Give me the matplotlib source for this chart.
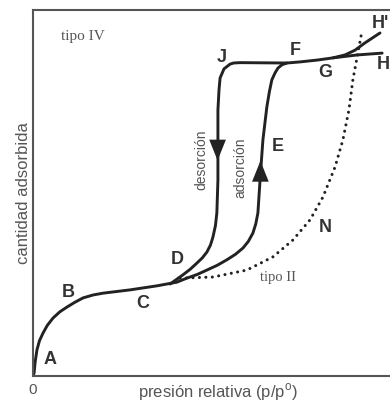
import matplotlib
matplotlib.use('Agg')
import matplotlib.pyplot as plt

plt.rcParams['font.family'] = ['Liberation Sans', 'DejaVu Sans']

# curva de adsorción (A -> C -> D -> E -> F -> G -> H), coordenadas relativas
ads_x = [0.0, 0.003, 0.006, 0.011, 0.018, 0.028, 0.040, 0.056, 0.075, 0.095, 0.117, 0.140,
         0.168, 0.196, 0.272, 0.347, 0.403, 0.431, 0.460, 0.487, 0.516, 0.543, 0.567,
         0.588, 0.603, 0.616, 0.624, 0.630, 0.636, 0.640, 0.644, 0.655, 0.662, 0.669,
         0.678, 0.686, 0.697, 0.711, 0.748, 0.796, 0.840, 0.908, 0.978]
ads_y = [0.0, 0.008, 0.038, 0.071, 0.096, 0.117, 0.138, 0.158, 0.175, 0.188, 0.201, 0.213,
         0.221, 0.226, 0.235, 0.246, 0.256, 0.267, 0.277, 0.289, 0.302, 0.317, 0.332,
         0.349, 0.367, 0.390, 0.415, 0.445, 0.535, 0.590, 0.644, 0.734, 0.775, 0.808,
         0.827, 0.840, 0.849, 0.854, 0.857, 0.862, 0.868, 0.876, 0.881]

# rama de desorción (F -> J -> D)
des_x = [0.711, 0.580, 0.562, 0.552, 0.535, 0.524, 0.521, 0.518, 0.518, 0.515, 0.511,
         0.504, 0.497, 0.487, 0.474, 0.459, 0.440, 0.420, 0.384]
des_y = [0.854, 0.855, 0.854, 0.851, 0.838, 0.813, 0.780, 0.726, 0.535, 0.445, 0.410,
         0.379, 0.357, 0.338, 0.322, 0.308, 0.291, 0.276, 0.251]

# rama G -> H'
hp_x = [0.840, 0.874, 0.902, 0.930, 0.972]
hp_y = [0.868, 0.876, 0.889, 0.909, 0.936]

# isoterma tipo II (punteada)
t2_x = [0.412, 0.504, 0.599, 0.672, 0.728, 0.776, 0.812, 0.846, 0.868, 0.885, 0.896,
        0.910, 0.922]
t2_y = [0.267, 0.270, 0.289, 0.325, 0.371, 0.426, 0.488, 0.570, 0.644, 0.726, 0.808,
        0.881, 0.944]

# flechas (base, punta)
arrows = [((0.517, 0.636), (0.517, 0.588)),   # desorción, hacia abajo
          ((0.637, 0.540), (0.637, 0.587))]   # adsorción, hacia arriba

# etiquetas de puntos
letters = ['A', 'B', 'C', 'D', 'E', 'F', 'G', 'H', "H'", 'J', 'N']
letter_x = [0.048, 0.098, 0.308, 0.403, 0.686, 0.734, 0.818, 0.982, 0.972, 0.529, 0.818]
letter_y = [0.044, 0.229, 0.199, 0.317, 0.625, 0.889, 0.829, 0.849, 0.963, 0.868, 0.404]

line_c = '#222222'
text_c = '#555555'

fig = plt.figure(figsize=(3.9, 4.03), dpi=100)
ax = fig.add_axes([33 / 390, 27 / 403, 357 / 390, 366.5 / 403])

for xs, ys in [(ads_x, ads_y), (des_x, des_y), (hp_x, hp_y)]:
    ax.plot(xs, ys, color=line_c, lw=2.1, solid_joinstyle='round', solid_capstyle='round')
ax.plot(t2_x, t2_y, color=line_c, lw=2.2, linestyle=(0, (0.01, 2.1)),
        dash_capstyle='round')

for base, tip in arrows:
    ax.annotate('', xy=tip, xytext=base,
                arrowprops=dict(arrowstyle='-|>,head_length=1.0,head_width=0.4',
                                color=line_c, lw=0, mutation_scale=15, shrinkA=0, shrinkB=0))

for t, x, y in zip(letters, letter_x, letter_y):
    ax.text(x, y, t, color='#333333', fontsize=13, fontweight='bold',
            ha='center', va='center')

ax.text(0.140, 0.925, 'tipo IV', family=['Liberation Serif', 'DejaVu Serif'],
        color=text_c, fontsize=11, ha='center', va='center')
ax.text(0.686, 0.270, 'tipo II', family=['Liberation Serif', 'DejaVu Serif'],
        color=text_c, fontsize=10.5, ha='center', va='center')
ax.text(0.473, 0.589, 'desorción', rotation=90, color=text_c, fontsize=10,
        ha='center', va='center')
ax.text(0.580, 0.568, 'adsorción', rotation=90, color=text_c, fontsize=10,
        ha='center', va='center')

ax.set_xlim(0, 1)
ax.set_ylim(0, 1)
ax.set_xticks([0])
ax.set_xticklabels(['0'], color=text_c, fontsize=11)
ax.set_yticks([])
ax.tick_params(axis='x', length=0, pad=5)
ax.set_xlabel('presión relativa (p/p$^{\\mathregular{o}}$)', color=text_c, fontsize=12)
ax.xaxis.set_label_coords(0.518, -0.014)
ax.set_ylabel('cantidad adsorbida', color=text_c, fontsize=12)
ax.yaxis.set_label_coords(-0.005, 0.5)

ax.spines['right'].set_visible(False)
for s in ['left', 'top', 'bottom']:
    ax.spines[s].set_color('#555555')
    ax.spines[s].set_linewidth(1.5)

fig.savefig('out.png', dpi=100)
